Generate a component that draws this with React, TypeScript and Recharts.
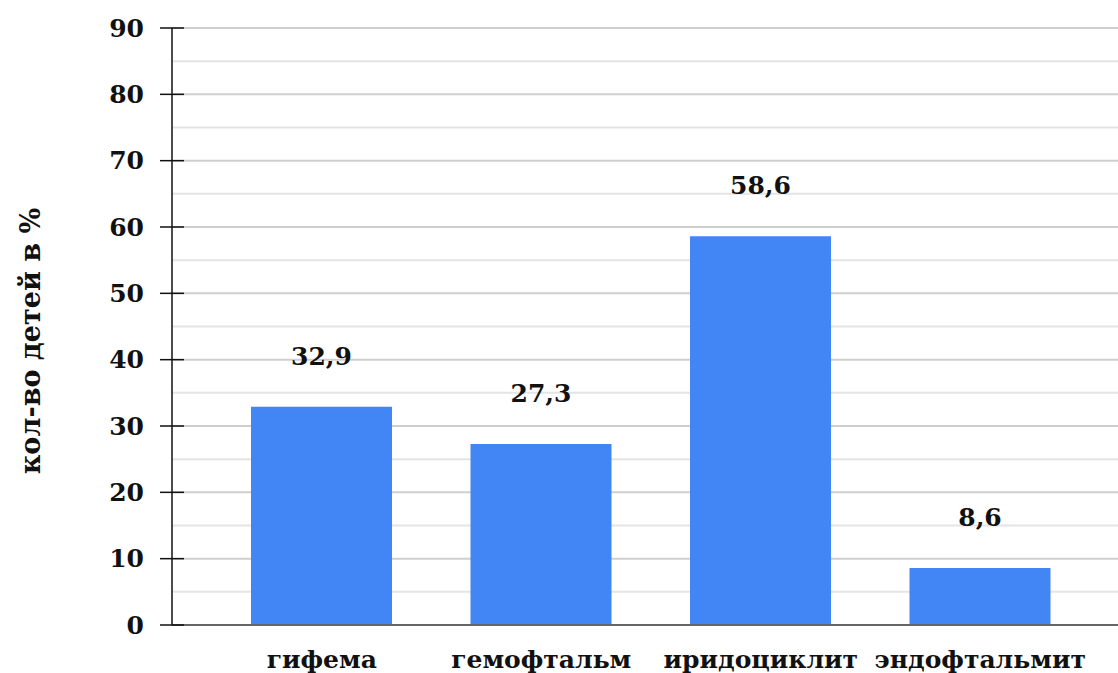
import React from "react";
import {
  Bar,
  BarChart,
  CartesianGrid,
  LabelList,
  XAxis,
  YAxis,
} from "recharts";

const categories = ["гифема", "гемофтальм", "иридоциклит", "эндофтальмит"];
const percents = [32.9, 27.3, 58.6, 8.6];
const yTicks = [0, 5, 10, 15, 20, 25, 30, 35, 40, 45, 50, 55, 60, 65, 70, 75, 80, 85, 90];
const yTitle = "кол-во детей в %";

const data = categories.map((name, i) => ({ name, value: percents[i] }));

const FONT = "'DejaVu Serif', serif";
const AXIS_W = 172;

const fmt = (v: number) => String(v).replace(".", ",");

function YTick(props: any) {
  const { y, payload } = props;
  // minor ticks only feed the grid, no label
  if (payload.value % 10 !== 0) return null;
  return (
    <g>
      <line x1={AXIS_W - 12} x2={AXIS_W + 12} y1={y} y2={y} stroke="#111" strokeWidth={1.5} />
      <text
        x={AXIS_W - 28}
        y={y}
        textAnchor="end"
        dominantBaseline="central"
        fontFamily={FONT}
        fontWeight="bold"
        fontSize={25}
        fill="#111"
      >
        {payload.value}
      </text>
    </g>
  );
}

function XTick(props: any) {
  const { x, y, payload } = props;
  return (
    <text
      x={x}
      y={y + 43}
      textAnchor="middle"
      fontFamily={FONT}
      fontWeight="bold"
      fontSize={25}
      fill="#111"
    >
      {payload.value}
    </text>
  );
}

function GridLine(props: any) {
  const { x1, x2, y1, y2, index } = props;
  const major = index % 2 === 0;
  return (
    <line
      x1={x1}
      x2={x2}
      y1={y1}
      y2={y2}
      stroke={major ? "#cfcfcf" : "#e4e4e4"}
      strokeWidth={2}
    />
  );
}

export default function App() {
  return (
    <div style={{ position: "absolute", left: 0, top: 0, background: "#fff" }}>
      <BarChart
        width={1118}
        height={673}
        data={data}
        margin={{ top: 28, right: 0, bottom: 0, left: 0 }}
      >
        <CartesianGrid vertical={false} horizontal={GridLine} />
        <XAxis
          dataKey="name"
          height={48}
          padding={{ left: 40, right: 28 }}
          tickLine={false}
          tickSize={0}
          tickMargin={0}
          tick={<XTick />}
          stroke="#666"
          strokeWidth={2}
          interval={0}
        />
        <YAxis
          width={AXIS_W}
          domain={[0, 90]}
          ticks={yTicks}
          interval={0}
          tickLine={false}
          tick={<YTick />}
          stroke="#111"
          strokeWidth={1.5}
          label={{
            content: () => (
              <text
                x={30}
                y={341}
                transform="rotate(-90 30 341)"
                textAnchor="middle"
                dominantBaseline="central"
                fontFamily={FONT}
                fontWeight="bold"
                fontSize={27}
                fill="#111"
              >
                {yTitle}
              </text>
            ),
          }}
        />
        <Bar dataKey="value" fill="#4285f4" barSize={141} isAnimationActive={false}>
          <LabelList
            dataKey="value"
            position="top"
            offset={42}
            formatter={(v: any) => fmt(v)}
            fontFamily={FONT}
            fontWeight="bold"
            fontSize={25}
            fill="#111"
          />
        </Bar>
      </BarChart>
    </div>
  );
}
